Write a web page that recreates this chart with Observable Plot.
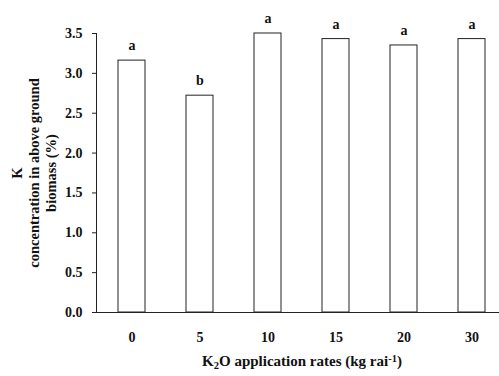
<!DOCTYPE html>
<html>
<head>
<meta charset="utf-8">
<script src="https://cdn.jsdelivr.net/npm/d3@7"></script>
<script src="https://cdn.jsdelivr.net/npm/@observablehq/plot@0.6"></script>
<style>
  html, body { margin: 0; padding: 0; background: #fff; }
  #chart svg { display: block; }
</style>
</head>
<body>
<div id="chart"></div>
<script>
const rates = ["0", "5", "10", "15", "20", "30"];
const kConc = [3.16, 2.72, 3.50, 3.43, 3.35, 3.43];
const letters = ["a", "b", "a", "a", "a", "a"];
const yTicks = [0, 0.5, 1.0, 1.5, 2.0, 2.5, 3.0, 3.5];
const yTitle = "K\nconcentration in above ground\nbiomass (%)";
const xTitle = "K2O application rates (kg rai-1)";

const data = rates.map((r, i) => ({rate: r, value: kConc[i], letter: letters[i]}));
const font = "'Liberation Serif', 'Times New Roman', serif";

const chart = Plot.plot({
  width: 499,
  height: 376,
  marginLeft: 96,
  marginRight: 0,
  marginTop: 33,
  marginBottom: 64,
  style: {fontFamily: font, fontWeight: "bold", fontSize: "14px", color: "#111", background: "transparent"},
  x: {domain: rates, range: [96, 506.4], paddingInner: 0.6, paddingOuter: 0.3, label: null},
  y: {domain: [0, 3.5], label: null},
  marks: [
    Plot.barY(data, {x: "rate", y: "value", fill: "white", stroke: "#222", strokeWidth: 1}),
    Plot.text(data, {x: "rate", y: "value", text: "letter", dy: -15, fontSize: 14, fontWeight: "bold", fill: "#111"}),
    Plot.axisY({ticks: yTicks, tickFormat: d3.format(".1f"), tickSize: 4, tickPadding: 10, fontSize: 14, fontWeight: "bold", stroke: "#222", label: null}),
    Plot.axisX({tickSize: 0, tickPadding: 20, fontSize: 14, fontWeight: "bold", label: null}),
    Plot.frame({anchor: "left", stroke: "#222"}),
    Plot.ruleY([0], {stroke: "#222", strokeWidth: 1.2}),
    Plot.text([yTitle], {frameAnchor: "left", textAnchor: "middle", lineAnchor: "middle", dx: -63, rotate: -90, lineHeight: 1.15, fontSize: 14.5, fontWeight: "bold", fill: "#111"}),
    Plot.text([xTitle], {frameAnchor: "bottom", dx: 4, dy: 53, fontSize: 15, fontWeight: "bold", fill: "#111", className: "xtitle"})
  ]
});

// Subscript / superscript for the x title
const xt = chart.querySelector(".xtitle text");
if (xt) {
  xt.textContent = "";
  const NS = "http://www.w3.org/2000/svg";
  const parts = [["K", 0], ["2", 1], ["O application rates (kg rai", 0], ["-1", -1], [")", 0]];
  for (const [t, k] of parts) {
    const ts = document.createElementNS(NS, "tspan");
    ts.textContent = t;
    if (k === 1) { ts.setAttribute("baseline-shift", "-25%"); ts.setAttribute("font-size", "10.5"); }
    if (k === -1) { ts.setAttribute("baseline-shift", "40%"); ts.setAttribute("font-size", "10.5"); }
    xt.appendChild(ts);
  }
}
document.getElementById("chart").appendChild(chart);
</script>
</body>
</html>
